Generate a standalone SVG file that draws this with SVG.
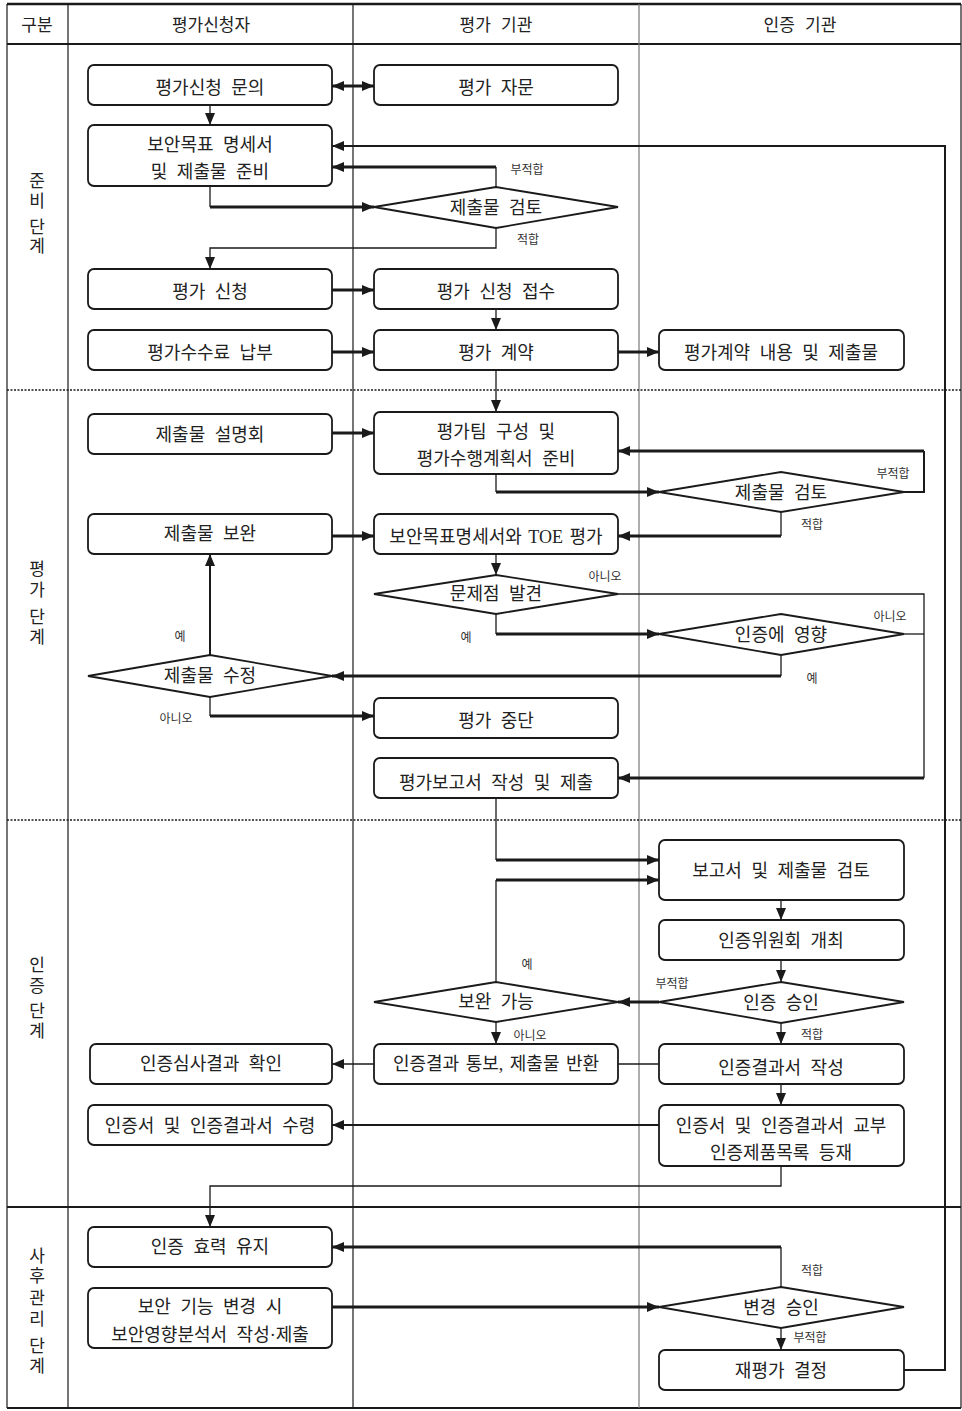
<svg xmlns="http://www.w3.org/2000/svg" width="962" height="1411" viewBox="0 0 962 1411">
<defs>
<marker id="ah" viewBox="0 0 12 10" refX="12" refY="5" markerWidth="12" markerHeight="10" markerUnits="userSpaceOnUse" orient="auto-start-reverse"><path d="M0,0 L12,5 L0,10 z" fill="#1a1a1a"/></marker>
<style>
.bx{fill:#fff;stroke:#1a1a1a;stroke-width:1.8}
.dm{fill:#fff;stroke:#1a1a1a;stroke-width:1.8}
.t{font-family:"Liberation Serif","Noto Sans CJK KR",serif;font-size:18px;fill:#222;text-anchor:middle;word-spacing:5px}
.h{font-family:"Liberation Serif","Noto Sans CJK KR",serif;font-size:17px;fill:#222;text-anchor:middle}
.s{font-family:"Liberation Serif","Noto Sans CJK KR",serif;font-size:12px;fill:#333;text-anchor:middle}
.thin{fill:none;stroke:#1a1a1a;stroke-width:1.3}
.med{fill:none;stroke:#1a1a1a;stroke-width:2}
.thk{fill:none;stroke:#1a1a1a;stroke-width:3.2}
.a{marker-end:url(#ah)}
.grid{stroke:#1a1a1a;stroke-width:1.2;fill:none}
</style>
</defs>
<rect width="962" height="1411" fill="#fff"/>
<g id="frame">
<line x1="7" y1="4" x2="961" y2="4" stroke="#1a1a1a" stroke-width="2.5"/>
<line x1="7" y1="44" x2="961" y2="44" stroke="#1a1a1a" stroke-width="2.2"/>
<line x1="7" y1="1408" x2="961" y2="1408" stroke="#1a1a1a" stroke-width="2"/>
<line x1="7" y1="4" x2="7" y2="1408" class="grid"/>
<line x1="961" y1="4" x2="961" y2="1408" class="grid"/>
<line x1="68" y1="4" x2="68" y2="1408" class="grid"/>
<line x1="353" y1="4" x2="353" y2="1408" class="grid"/>
<line x1="639" y1="4" x2="639" y2="1408" stroke="#777" stroke-width="1.2"/>
<line x1="7" y1="390" x2="961" y2="390" stroke="#1a1a1a" stroke-width="1.6" stroke-dasharray="2,1.5"/>
<line x1="7" y1="820" x2="961" y2="820" stroke="#1a1a1a" stroke-width="1.6" stroke-dasharray="2,1.5"/>
<line x1="7" y1="1207" x2="961" y2="1207" stroke="#1a1a1a" stroke-width="2"/>
<text class="h" x="37" y="31">구분</text>
<text class="h" x="211" y="31">평가신청자</text>
<text class="h" x="496" y="31" style="word-spacing:6px">평가 기관</text>
<text class="h" x="800" y="31" style="word-spacing:6px">인증 기관</text>
<text class="h" x="37" y="187">준</text><text class="h" x="37" y="207">비</text><text class="h" x="37" y="233">단</text><text class="h" x="37" y="252">계</text>
<text class="h" x="37" y="575">평</text><text class="h" x="37" y="596">가</text><text class="h" x="37" y="623">단</text><text class="h" x="37" y="643">계</text>
<text class="h" x="37" y="971">인</text><text class="h" x="37" y="992">증</text><text class="h" x="37" y="1017">단</text><text class="h" x="37" y="1037">계</text>
<text class="h" x="37" y="1262">사</text><text class="h" x="37" y="1282">후</text><text class="h" x="37" y="1304">관</text><text class="h" x="37" y="1325">리</text><text class="h" x="37" y="1352">단</text><text class="h" x="37" y="1372">계</text>
</g>
<g id="connectors">
<path class="thk a" d="M374,86 L332,86" marker-start="url(#ah)"/>
<path class="thin a" d="M210,105 L210,125"/>
<path class="thin" d="M496,187 L496,167"/>
<path class="thk a" d="M496,167 L332,167"/>
<path class="thin" d="M210,186 L210,207"/>
<path class="thk a" d="M210,207 L374,207"/>
<path class="thin a" d="M496,228 L496,248 L210,248 L210,269"/>
<path class="thk a" d="M332,290 L374,290"/>
<path class="thin a" d="M496,309 L496,330"/>
<path class="thk a" d="M332,352 L374,352"/>
<path class="thk a" d="M618,352 L659,352"/>
<path class="thin a" d="M496,370 L496,412"/>
<path class="thk a" d="M332,433 L374,433"/>
<path class="thin" d="M496,474 L496,492"/>
<path class="thk a" d="M496,492 L659,492"/>
<path class="med" d="M904,492 L924,492 L924,451"/>
<path class="thk a" d="M924,451 L618,451"/>
<path class="thin" d="M781,512 L781,536"/>
<path class="thk a" d="M781,536 L618,536"/>
<path class="thk a" d="M332,536 L374,536"/>
<path class="thin a" d="M496,554 L496,575"/>
<path class="thin" d="M618,594 L924,594 L924,778"/>
<path class="thk a" d="M924,778 L618,778"/>
<path class="thin" d="M496,614 L496,634"/>
<path class="thk a" d="M496,634 L659,634"/>
<path class="thin" d="M904,634 L924,634"/>
<path class="thin" d="M781,655 L781,676"/>
<path class="thk a" d="M781,676 L332,676"/>
<path class="med a" d="M210,655 L210,554"/>
<path class="thin" d="M210,697 L210,716"/>
<path class="thk a" d="M210,716 L374,716"/>
<path class="thin" d="M496,798 L496,860"/>
<path class="thk a" d="M496,860 L659,860"/>
<path class="thin" d="M496,982 L496,880"/>
<path class="thk a" d="M496,880 L659,880"/>
<path class="thin a" d="M781,900 L781,920"/>
<path class="thin a" d="M781,960 L781,982"/>
<path class="thk a" d="M659,1002 L618,1002"/>
<path class="thin a" d="M781,1023 L781,1044"/>
<path class="thin a" d="M496,1022 L496,1044"/>
<path class="thin" d="M659,1064 L618,1064"/>
<path class="thin a" d="M374,1064 L332,1064"/>
<path class="thin a" d="M781,1084 L781,1105"/>
<path class="med a" d="M659,1125 L332,1125"/>
<path class="thin a" d="M781,1166 L781,1186 L210,1186 L210,1227"/>
<path class="thin" d="M781,1287 L781,1247" stroke="#666"/>
<path class="thk a" d="M781,1247 L332,1247"/>
<path class="thk a" d="M332,1307 L659,1307"/>
<path class="thin a" d="M781,1328 L781,1350"/>
<path class="med a" d="M904,1370 L945,1370 L945,146 L332,146"/>
<text class="s" x="527" y="174">부적합</text>
<text class="s" x="528" y="244">적합</text>
<text class="s" x="893" y="478">부적합</text>
<text class="s" x="812" y="529">적합</text>
<text class="s" x="605" y="581">아니오</text>
<text class="s" x="466" y="642">예</text>
<text class="s" x="890" y="621">아니오</text>
<text class="s" x="812" y="683">예</text>
<text class="s" x="180" y="641">예</text>
<text class="s" x="176" y="723">아니오</text>
<text class="s" x="527" y="969">예</text>
<text class="s" x="672" y="988">부적합</text>
<text class="s" x="812" y="1039">적합</text>
<text class="s" x="530" y="1040">아니오</text>
<text class="s" x="812" y="1275">적합</text>
<text class="s" x="810" y="1342">부적합</text>
</g>
<g id="n1"><rect class="bx" x="88" y="65" width="244" height="40" rx="6"/><text class="t" x="210" y="94">평가신청 문의</text></g>
<g id="n2"><rect class="bx" x="374" y="65" width="244" height="40" rx="6"/><text class="t" x="496" y="94">평가 자문</text></g>
<g id="n3"><rect class="bx" x="88" y="125" width="244" height="61" rx="6"/><text class="t" x="210" y="151">보안목표 명세서</text><text class="t" x="210" y="178">및 제출물 준비</text></g>
<g id="n4"><polygon class="dm" points="374,207 496,187 618,207 496,228"/><text class="t" x="496" y="214">제출물 검토</text></g>
<g id="n5"><rect class="bx" x="88" y="269" width="244" height="40" rx="6"/><text class="t" x="210" y="298">평가 신청</text></g>
<g id="n6"><rect class="bx" x="374" y="269" width="244" height="40" rx="6"/><text class="t" x="496" y="298">평가 신청 접수</text></g>
<g id="n7"><rect class="bx" x="88" y="330" width="244" height="40" rx="6"/><text class="t" x="210" y="359">평가수수료 납부</text></g>
<g id="n8"><rect class="bx" x="374" y="330" width="244" height="40" rx="6"/><text class="t" x="496" y="359">평가 계약</text></g>
<g id="n9"><rect class="bx" x="659" y="330" width="245" height="40" rx="6"/><text class="t" x="781" y="359">평가계약 내용 및 제출물</text></g>
<g id="n10"><rect class="bx" x="88" y="414" width="244" height="40" rx="6"/><text class="t" x="210" y="441">제출물 설명회</text></g>
<g id="n11"><rect class="bx" x="374" y="412" width="244" height="62" rx="6"/><text class="t" x="496" y="438">평가팀 구성 및</text><text class="t" x="496" y="465">평가수행계획서 준비</text></g>
<g id="n12"><polygon class="dm" points="659,492 781,472 904,492 781,512"/><text class="t" x="781" y="499">제출물 검토</text></g>
<g id="n13"><rect class="bx" x="88" y="514" width="244" height="40" rx="6"/><text class="t" x="210" y="540">제출물 보완</text></g>
<g id="n14"><rect class="bx" x="374" y="514" width="244" height="40" rx="6"/><text class="t" x="496" y="543" style="word-spacing:2px">보안목표명세서와 TOE 평가</text></g>
<g id="n15"><polygon class="dm" points="374,594 496,575 618,594 496,614"/><text class="t" x="496" y="600">문제점 발견</text></g>
<g id="n16"><polygon class="dm" points="659,634 781,614 904,634 781,655"/><text class="t" x="781" y="641">인증에 영향</text></g>
<g id="n17"><polygon class="dm" points="88,676 210,655 332,676 210,697"/><text class="t" x="210" y="682">제출물 수정</text></g>
<g id="n18"><rect class="bx" x="374" y="698" width="244" height="40" rx="6"/><text class="t" x="496" y="727">평가 중단</text></g>
<g id="n19"><rect class="bx" x="374" y="758" width="244" height="40" rx="6"/><text class="t" x="496" y="789">평가보고서 작성 및 제출</text></g>
<g id="n20"><rect class="bx" x="659" y="840" width="245" height="60" rx="6"/><text class="t" x="781" y="877">보고서 및 제출물 검토</text></g>
<g id="n21"><rect class="bx" x="659" y="920" width="245" height="40" rx="6"/><text class="t" x="781" y="947">인증위원회 개최</text></g>
<g id="n22"><polygon class="dm" points="659,1002 781,982 904,1002 781,1023"/><text class="t" x="781" y="1009">인증 승인</text></g>
<g id="n23"><polygon class="dm" points="374,1002 496,982 618,1002 496,1022"/><text class="t" x="496" y="1008">보완 가능</text></g>
<g id="n24"><rect class="bx" x="374" y="1044" width="244" height="40" rx="6"/><text class="t" x="496" y="1070" style="word-spacing:2px">인증결과 통보, 제출물 반환</text></g>
<g id="n25"><rect class="bx" x="659" y="1044" width="245" height="40" rx="6"/><text class="t" x="781" y="1074">인증결과서 작성</text></g>
<g id="n26"><rect class="bx" x="90" y="1044" width="242" height="40" rx="6"/><text class="t" x="211" y="1070">인증심사결과 확인</text></g>
<g id="n27"><rect class="bx" x="659" y="1105" width="245" height="61" rx="6"/><text class="t" x="781" y="1132">인증서 및 인증결과서 교부</text><text class="t" x="781" y="1159">인증제품목록 등재</text></g>
<g id="n28"><rect class="bx" x="88" y="1105" width="244" height="40" rx="6"/><text class="t" x="210" y="1132">인증서 및 인증결과서 수령</text></g>
<g id="n29"><rect class="bx" x="88" y="1227" width="244" height="40" rx="6"/><text class="t" x="210" y="1253">인증 효력 유지</text></g>
<g id="n30"><rect class="bx" x="88" y="1288" width="244" height="60" rx="6"/><text class="t" x="210" y="1313">보안 기능 변경 시</text><text class="t" x="210" y="1341">보안영향분석서 작성·제출</text></g>
<g id="n31"><polygon class="dm" points="659,1307 781,1287 904,1307 781,1328"/><text class="t" x="781" y="1314">변경 승인</text></g>
<g id="n32"><rect class="bx" x="659" y="1350" width="245" height="40" rx="6"/><text class="t" x="781" y="1377">재평가 결정</text></g>
</svg>
